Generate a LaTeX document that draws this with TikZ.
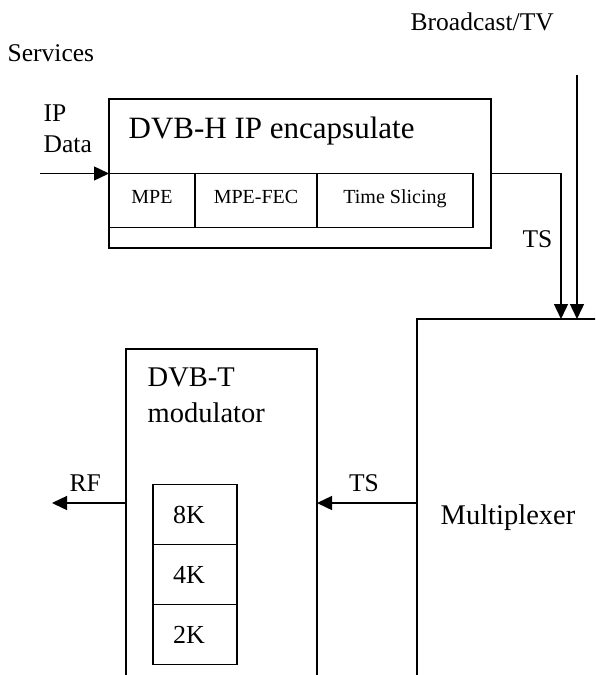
\documentclass[tikz,border=0pt]{standalone}
\usepackage{fontspec}
\setmainfont{Liberation Serif}
\usetikzlibrary{arrows.meta, positioning}

\begin{document}
\begin{tikzpicture}[x=1pt, y=1pt, line width=1.4pt,
  blk/.style={draw, rectangle, inner sep=0pt, outer sep=0pt},
  cell/.style={draw, rectangle, inner sep=0pt, outer sep=0pt, minimum height=54pt, text height=13.6pt, text depth=8pt, font=\fontsize{20}{24}\selectfont},
  kcell/.style={draw, rectangle, inner xsep=20pt, inner ysep=0pt, outer sep=0pt, text width=44pt, align=left, minimum height=60pt, font=\fontsize{26}{31}\selectfont},
  lbl/.style={inner sep=0pt, font=\fontsize{25.5}{31}\selectfont},
  big/.style={inner sep=0pt, font=\fontsize{28.5}{36}\selectfont},
  arr/.style={-{Triangle[length=15pt, width=14pt]}}]

  \path[use as bounding box, fill=white] (0,0) rectangle (595,-675);
  \clip (0,0) rectangle (595,-675);

  % Inputs
  \node[lbl, anchor=base west] (services) at (7,-61) {Services};
  \node[lbl, anchor=base west] (tvlbl) at (410,-30) {Broadcast/TV};
  \coordinate (ipin) at (40,-173.5);
  \coordinate (tvin) at (577,-75);

  % DVB-H IP encapsulator
  \node[blk, anchor=north west, minimum width=382pt, minimum height=149pt] (encap) at (109,-99) {};
  \node[inner sep=0pt, font=\fontsize{31}{37}\selectfont, below right=17pt and 19pt of encap.north west] (encaptitle) {DVB-H IP encapsulate};
  \node[cell, anchor=north west, minimum width=86pt] (mpe) at (encap.west) {MPE};
  \node[cell, right=0pt of mpe, minimum width=122pt] (mpefec) {MPE-FEC};
  \node[cell, right=0pt of mpefec, minimum width=156pt] (slicing) {Time Slicing};
  \node[lbl, align=left, above right=20.5pt and 3pt of ipin] (ipdata) {IP\\Data};

  % Multiplexer
  \node[blk, big, anchor=north west, minimum width=182pt, minimum height=397.7pt] (mux) at (417,-319) {Multiplexer};

  % DVB-T modulator
  \node[blk, anchor=north west, minimum width=191pt, minimum height=400pt] (mod) at (126,-349) {};
  \node[big, align=left, below right=18pt and 21pt of mod.north west] (modlbl) {DVB-T\\modulator};
  \node[kcell, below right=135.5pt and 27pt of mod.north west] (k8) {8K};
  \node[kcell, below=0pt of k8] (k4) {4K};
  \node[kcell, below=0pt of k4] (k2) {2K};
  \coordinate (rfout) at (52,-503);

  % Connections
  \draw[arr] (ipin) -- (encap.west);
  \coordinate (tsbend) at (561,-173.5);
  \draw[arr] (encap.east) -- (tsbend) -- (tsbend |- mux.north)
    node[pos=0.45, left=8pt, lbl] (tsup) {TS};
  \draw[arr] (tvin) -- (tvin |- mux.north);
  \draw[arr] (mux.west |- rfout) -- (mod.east |- rfout)
    node[pos=0.53, above=11pt, lbl] (tsdown) {TS};
  \draw[arr] (mod.west |- rfout) -- (rfout)
    node[pos=0.55, above=11pt, lbl] (rf) {RF};
\end{tikzpicture}
\end{document}
